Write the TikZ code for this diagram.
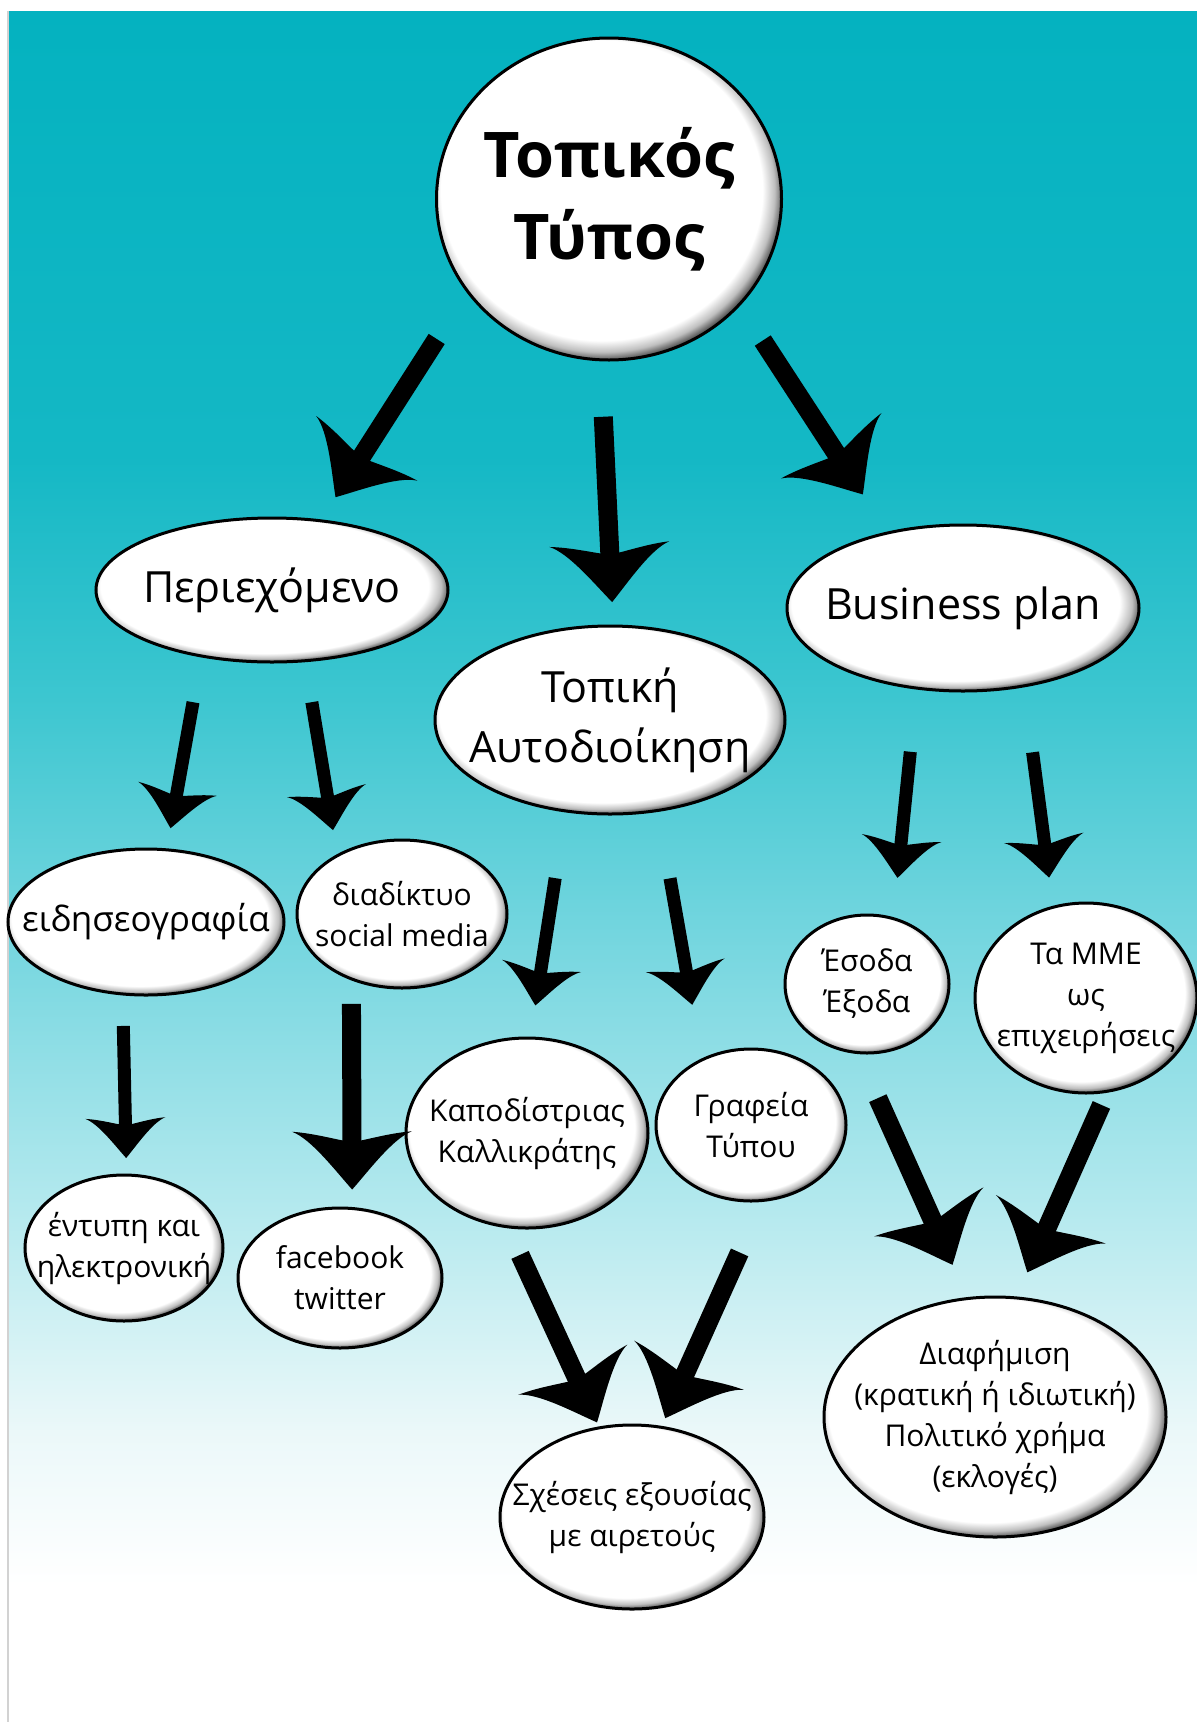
\documentclass[tikz,border=0pt]{standalone}
\usepackage{fontspec}
\setmainfont{Open Sans}
\usetikzlibrary{shapes.geometric,arrows.meta}

\definecolor{tealA}{RGB}{4,178,192}
\definecolor{tealB}{RGB}{20,184,197}
\definecolor{tealC}{RGB}{60,198,208}
\definecolor{tealD}{RGB}{120,215,224}
\definecolor{tealE}{RGB}{180,233,238}
\definecolor{tealF}{RGB}{235,248,249}

\pgfdeclareverticalshading{backdrop}{100bp}{color(0bp)=(white); color(29bp)=(white);
  color(33.5bp)=(tealF); color(40bp)=(tealE); color(47.5bp)=(tealD); color(55bp)=(tealC);
  color(62bp)=(tealB); color(75bp)=(tealA); color(100bp)=(tealA)}
\pgfdeclareradialshading{bevel}{\pgfpoint{-2bp}{2.5bp}}{color(0bp)=(white); color(23.3bp)=(white);
  color(25bp)=(gray!50); color(26.3bp)=(black!70); color(28bp)=(black!80); color(50bp)=(black!80)}

% curved barb arrow tip
\pgfdeclarearrow{
  name = Hook,
  defaults = {length = 58pt, width = 120pt},
  setup code = {
    \pgfarrowssettipend{0pt}
    \pgfarrowssetlineend{-.7\pgfarrowlength}
    \pgfarrowssetvisualbackend{-.84\pgfarrowlength}
    \pgfarrowssetbackend{-\pgfarrowlength}
    \pgfarrowshullpoint{0pt}{0pt}
    \pgfarrowsupperhullpoint{-\pgfarrowlength}{.5\pgfarrowwidth}
    \pgfarrowssavethe\pgfarrowlength
    \pgfarrowssavethe\pgfarrowwidth
  },
  drawing code = {
    \pgfpathmoveto{\pgfpointorigin}
    \pgfpathcurveto{\pgfpoint{-.3\pgfarrowlength}{.13\pgfarrowwidth}}
      {\pgfpoint{-.88\pgfarrowlength}{.34\pgfarrowwidth}}
      {\pgfpoint{-\pgfarrowlength}{.5\pgfarrowwidth}}
    \pgfpathcurveto{\pgfpoint{-.97\pgfarrowlength}{.3\pgfarrowwidth}}
      {\pgfpoint{-.84\pgfarrowlength}{.1\pgfarrowwidth}}
      {\pgfpoint{-.82\pgfarrowlength}{0pt}}
    \pgfpathcurveto{\pgfpoint{-.84\pgfarrowlength}{-.1\pgfarrowwidth}}
      {\pgfpoint{-.97\pgfarrowlength}{-.3\pgfarrowwidth}}
      {\pgfpoint{-\pgfarrowlength}{-.5\pgfarrowwidth}}
    \pgfpathcurveto{\pgfpoint{-.88\pgfarrowlength}{-.34\pgfarrowwidth}}
      {\pgfpoint{-.3\pgfarrowlength}{-.13\pgfarrowwidth}}
      {\pgfpointorigin}
    \pgfpathclose
    \pgfusepathqfill
  },
  parameters = {\the\pgfarrowlength,\the\pgfarrowwidth},
}

\tikzset{
  bubble/.style={
    shape = ellipse,
    draw = black,
    line width = 3pt,
    shade,
    shading = bevel,
    inner xsep = -30pt,
    inner ysep = 0pt,
    outer sep = 0pt,
    align = center,
    text = black
  },
  title/.style={
    font = \fontsize{63}{82}\selectfont\bfseries
  },
  bigtext/.style={
    font = \fontsize{43}{60}\selectfont
  },
  midtext/.style={
    font = \fontsize{30}{41}\selectfont
  },
  bigarrow/.style={
    line width = 19pt,
    -{Hook[length=58pt,width=120pt]}
  },
  smallarrow/.style={
    line width = 13pt,
    -{Hook[length=40pt,width=80pt]}
  }
}

\begin{document}
\begin{tikzpicture}[x=1pt,y=-1pt]
    \useasboundingbox (0,0) rectangle (1197,1722);
    \shade[shading=backdrop] (9,11) rectangle (1197,1722);
    \draw[gray!35, line width=2pt] (8,11) -- (8,1722);

    % bubbles
    \node[bubble, title, minimum width=345pt, minimum height=322pt] (top) at (609,199) {Τοπικός\\Τύπος};
    \node[bubble, bigtext, minimum width=352pt, minimum height=144pt] (cont) at (272,590) {Περιεχόμενο};
    \node[bubble, bigtext, minimum width=352pt, minimum height=166pt] (biz) at (963,608) {Business plan};
    \node[bubble, bigtext, minimum width=350pt, minimum height=188pt] (auto) at (610,720) {Τοπική\\Αυτοδιοίκηση};

    \node[bubble, midtext, font=\fontsize{35}{41}\selectfont, minimum width=276pt, minimum height=146pt] (news) at (146,922) {ειδησεογραφία};
    \node[bubble, midtext, minimum width=210pt, minimum height=148pt] (social) at (402,914) {διαδίκτυο\\social media};
    \node[bubble, midtext, minimum width=164pt, minimum height=138pt] (inc) at (867,984) {Έσοδα\\Έξοδα};
    \node[bubble, midtext, minimum width=222pt, minimum height=190pt] (mme) at (1086,998) {Τα ΜΜΕ\\ως\\επιχειρήσεις};
    \node[bubble, midtext, minimum width=242pt, minimum height=190pt] (kapo) at (527,1133) {Καποδίστριας\\Καλλικράτης};
    \node[bubble, midtext, minimum width=190pt, minimum height=152pt] (graf) at (751,1125) {Γραφεία\\Τύπου};
    \node[bubble, midtext, minimum width=198pt, minimum height=146pt] (print) at (124,1248) {έντυπη και\\ηλεκτρονική};
    \node[bubble, midtext, minimum width=204pt, minimum height=140pt] (fb) at (340,1278) {facebook\\twitter};
    \node[bubble, midtext, minimum width=342pt, minimum height=240pt] (adv) at (995,1417) {Διαφήμιση\\(κρατική ή ιδιωτική)\\Πολιτικό χρήμα\\(εκλογές)};
    \node[bubble, midtext, minimum width=264pt, minimum height=184pt] (rel) at (632,1517) {Σχέσεις εξουσίας\\με αιρετούς};

    % arrows
    \draw[bigarrow, shorten <=57pt, shorten >=28pt] (top.213) -- (cont.55);
    \draw[bigarrow, shorten <=57pt, shorten >=24pt] (top.267) -- (auto.88);
    \draw[bigarrow, shorten <=43pt, shorten >=46pt] (top.321) -- (biz.135);

    \draw[smallarrow, shorten <=47pt, shorten >=22pt] (cont.223) -- (news.74);
    \draw[smallarrow, shorten <=42pt, shorten >=26pt] (cont.295) -- (social.138);
    \draw[smallarrow, shorten <=68pt, shorten >=33pt] (auto.244) -- (kapo.88);
    \draw[smallarrow, shorten <=69pt, shorten >=56pt] (auto.298) -- (graf.127);
    \draw[smallarrow, shorten <=64pt, shorten >=41pt] (biz.240) -- (inc.68);
    \draw[smallarrow, shorten <=67pt, shorten >=30pt] (biz.308) -- (mme.110);
    \draw[smallarrow, shorten <=32pt, shorten >=17pt] (news.252) -- (print.88);

    \draw[bigarrow, shorten <=25pt, shorten >=19pt] (social.232) -- (fb.80);
    \draw[bigarrow, shorten <=31pt, shorten >=6pt] (kapo.258) -- (rel.110);
    \draw[bigarrow, shorten <=57pt, shorten >=10pt] (graf.279) -- (rel.72);
    \draw[bigarrow, shorten <=50pt, shorten >=37pt] (inc.262) -- (adv.103);
    \draw[bigarrow, shorten <=15pt, shorten >=28pt] (mme.283) -- (adv.80);
\end{tikzpicture}
\end{document}
